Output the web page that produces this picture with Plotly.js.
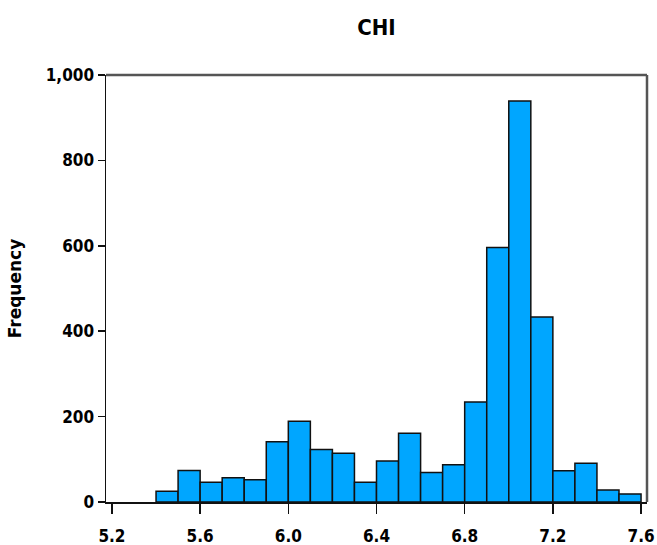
<!DOCTYPE html>
<html>
<head>
<meta charset="utf-8">
<script src="https://cdn.plot.ly/plotly-3.0.1.min.js"></script>
<style>
  html, body { margin: 0; padding: 0; background: #ffffff; }
  #chart { width: 657px; height: 545px; }
</style>
</head>
<body>
<div id="chart"></div>
<script>
// Left edges of the 0.1-wide CHI bins
const binStarts = [5.4, 5.5, 5.6, 5.7, 5.8, 5.9, 6.0, 6.1, 6.2, 6.3, 6.4,
                   6.5, 6.6, 6.7, 6.8, 6.9, 7.0, 7.1, 7.2, 7.3, 7.4, 7.5];
// Count of observations in each bin
const counts = [25, 74, 46, 57, 52, 141, 189, 123, 114, 46, 96,
                161, 69, 87, 234, 596, 939, 433, 73, 91, 28, 19];
const binWidth = 0.1;

const xTicks = [5.2, 5.6, 6.0, 6.4, 6.8, 7.2, 7.6];
const xTickText = ['5.2', '5.6', '6.0', '6.4', '6.8', '7.2', '7.6'];
const yTicks = [0, 200, 400, 600, 800, 1000];
const yTickText = ['0', '200', '400', '600', '800', '1,000'];

const tickFont = { family: 'DejaVu Sans Condensed, DejaVu Sans, sans-serif', size: 17, color: '#000000', weight: 'bold' };

const trace = {
  type: 'bar',
  x: binStarts,
  y: counts,
  width: binStarts.map(() => binWidth),
  offset: 0,
  marker: { color: '#00A6FF', line: { color: '#111111', width: 1.5 } },
  hoverinfo: 'x+y'
};

const layout = {
  width: 657,
  height: 545,
  margin: { l: 106, r: 10, t: 75, b: 43 },
  paper_bgcolor: '#ffffff',
  plot_bgcolor: '#ffffff',
  showlegend: false,
  title: {
    text: 'CHI',
    font: { family: 'DejaVu Sans Condensed, DejaVu Sans, sans-serif', size: 22, color: '#000000', weight: 'bold' },
    x: 0.5, xref: 'paper', xanchor: 'center',
    y: 1 - 27 / 545, yref: 'container', yanchor: 'middle'
  },
  xaxis: {
    range: [5.173, 7.627],
    tickmode: 'array',
    tickvals: xTicks,
    ticktext: xTickText,
    ticks: 'outside',
    ticklen: 10,
    tickwidth: 1.5,
    tickcolor: '#111111',
    ticklabelstandoff: 8,
    showline: true,
    linecolor: '#111111',
    linewidth: 1.5,
    showgrid: false,
    zeroline: false,
    tickfont: tickFont
  },
  yaxis: {
    range: [0, 1000],
    tickmode: 'array',
    tickvals: yTicks,
    ticktext: yTickText,
    ticks: 'outside',
    ticklen: 7,
    tickwidth: 1.5,
    tickcolor: '#111111',
    showline: true,
    linecolor: '#111111',
    linewidth: 1.5,
    showgrid: false,
    zeroline: false,
    tickfont: tickFont,
    title: {
      text: 'Frequency',
      font: { family: 'DejaVu Sans, sans-serif', size: 17, color: '#000000', weight: 'bold' },
      standoff: 20
    }
  },
  shapes: [
    { type: 'line', xref: 'paper', yref: 'paper', x0: 0, x1: 1, y0: 1, y1: 1,
      line: { color: '#555555', width: 2.5 } },
    { type: 'line', xref: 'paper', yref: 'paper', x0: 1, x1: 1, y0: 0, y1: 1,
      line: { color: '#555555', width: 2.5 } }
  ]
};

Plotly.newPlot('chart', [trace], layout, { displayModeBar: false, staticPlot: true });
</script>
</body>
</html>
